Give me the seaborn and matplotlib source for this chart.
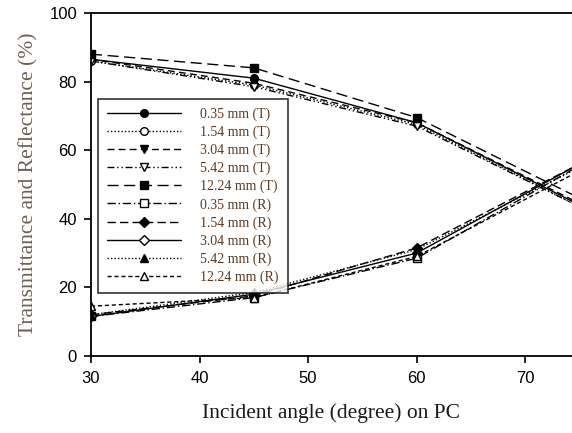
import matplotlib
matplotlib.use("Agg")
import matplotlib.pyplot as plt
import seaborn as sns
import pandas as pd

angles = [30, 45, 60, 75]
labels = ["0.35 mm (T)", "1.54 mm (T)", "3.04 mm (T)", "5.42 mm (T)", "12.24 mm (T)",
          "0.35 mm (R)", "1.54 mm (R)", "3.04 mm (R)", "5.42 mm (R)", "12.24 mm (R)"]
T_035 = [86.5, 81.0, 68.0, 44.0]
T_154 = [86.0, 79.0, 67.5, 43.5]
T_304 = [86.5, 79.5, 68.0, 44.5]
T_542 = [86.0, 78.5, 67.0, 43.5]
T_1224 = [88.0, 84.0, 69.5, 46.0]
R_035 = [11.5, 17.0, 28.5, 55.5]
R_154 = [12.0, 17.5, 31.5, 56.0]
R_304 = [11.5, 18.0, 30.0, 56.0]
R_542 = [12.0, 18.5, 31.0, 55.0]
R_1224 = [14.5, 17.0, 29.0, 54.0]
series = [T_035, T_154, T_304, T_542, T_1224, R_035, R_154, R_304, R_542, R_1224]

styles = [
    dict(ls="-", marker="o", mfc="black"),
    dict(ls=(0, (1, 1.5)), marker="o", mfc="white"),
    dict(ls=(0, (5, 3)), marker="v", mfc="black"),
    dict(ls=(0, (5, 2, 1, 2, 1, 2)), marker="v", mfc="white"),
    dict(ls=(0, (8, 4)), marker="s", mfc="black"),
    dict(ls=(0, (6, 2, 1, 2)), marker="s", mfc="white"),
    dict(ls=(0, (6, 3)), marker="D", mfc="black"),
    dict(ls="-", marker="D", mfc="white"),
    dict(ls=(0, (1, 1.5)), marker="^", mfc="black"),
    dict(ls=(0, (3, 2)), marker="^", mfc="white"),
]

sns.set_theme(style="ticks")
plt.rcParams["font.family"] = ["Liberation Sans", "DejaVu Sans"]

fig = plt.figure(figsize=(5.72, 4.33), dpi=100)
ax = fig.add_axes([0.159, 0.178, 0.841, 0.792])

for lab, vals, st in zip(labels, series, styles):
    df = pd.DataFrame({"angle": angles, "value": vals})
    sns.lineplot(data=df, x="angle", y="value", ax=ax, color="black", lw=1.0,
                 linestyle=st["ls"], marker=st["marker"], markersize=5.5,
                 markerfacecolor=st["mfc"], markeredgecolor="black",
                 markeredgewidth=1.0, label=lab, clip_on=True)

ax.set_xlim(30, 74.3)
ax.set_ylim(0, 100)
ax.set_xticks([30, 40, 50, 60, 70])
ax.set_yticks([0, 20, 40, 60, 80, 100])
ax.tick_params(direction="out", length=5, width=1.2, labelsize=12, colors="black")
ax.tick_params(axis="y", pad=5)
ax.tick_params(axis="x", pad=6)
for s in ["left", "bottom", "top"]:
    ax.spines[s].set_visible(True)
    ax.spines[s].set_linewidth(1.3)
    ax.spines[s].set_color("black")
ax.spines["right"].set_visible(False)

ax.set_xlabel("Incident angle (degree) on PC", family="Liberation Serif",
              fontsize=15.5, color="#1a1a1a", labelpad=12)
ax.set_ylabel("Transmittance and Reflectance (%)", family="Liberation Serif",
              fontsize=15.5, color="#6e5f52", labelpad=8)

leg = ax.legend(loc="lower left", bbox_to_anchor=(0.0146, 0.184), borderaxespad=0,
                frameon=True, fancybox=False, edgecolor="black",
                handlelength=5.3, handletextpad=1.4, labelspacing=0.33,
                borderpad=0.65, prop={"family": "Liberation Serif", "size": 10})
leg.get_frame().set_linewidth(1.2)
for t in leg.get_texts():
    t.set_color("#5a3a20")

fig.savefig("out.png", dpi=100)
